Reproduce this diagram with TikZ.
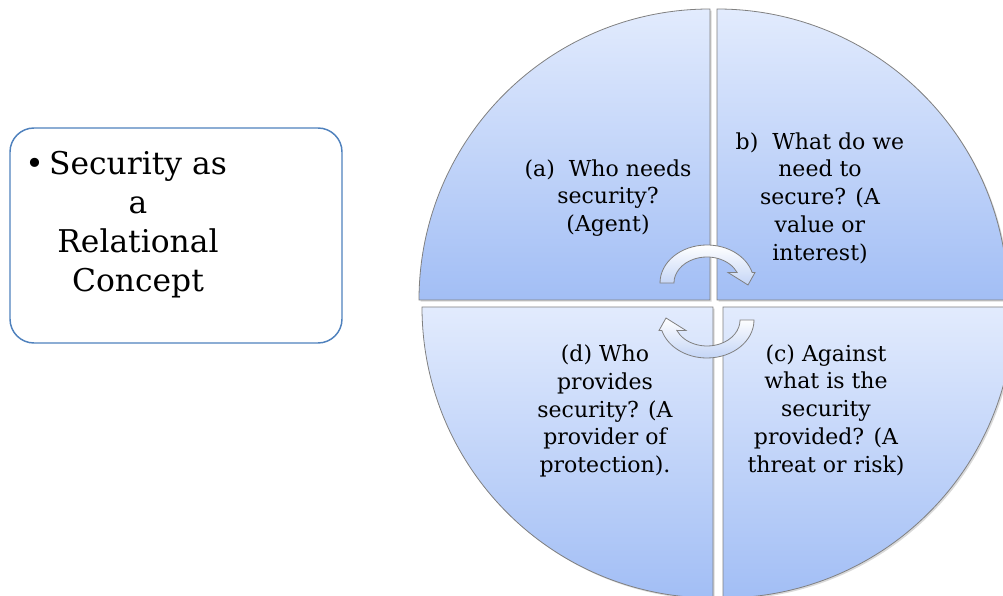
\documentclass[tikz,border=0pt]{standalone}
\usepackage{fontspec}
\setmainfont{DejaVu Serif}
\usetikzlibrary{shapes,arrows.meta,positioning,calc,shadows}
\definecolor{cQTop} {RGB}{226,235,253}
\definecolor{cQBot} {RGB}{162,190,245}
\definecolor{cFrame}{RGB}{79,129,189}
\definecolor{cEdge} {RGB}{128,128,128}
\definecolor{cArrow}{RGB}{196,213,246}

\begin{document}
\begin{tikzpicture}[
    x=0.75pt, y=0.75pt,
    quad/.style={draw=cEdge, line width=0.6pt, top color=cQTop, bottom color=cQBot,
                 drop shadow={shadow xshift=1.2pt, shadow yshift=-1.2pt, opacity=0.3}},
    qtext/.style={align=center, font=\fontsize{16.5}{20.8}\selectfont},
    topic/.style={align=center, font=\fontsize{23.5}{29.3}\selectfont},
    % curved block arrows in the middle of the circle
    cyc/.style={draw=cEdge, line width=0.6pt, top color=white, bottom color=cArrow},
]
\useasboundingbox (0,0) rectangle (1003,596);
\clip (0,0) rectangle (1003,596);

% --- Left box
\draw[cFrame, line width=1.1pt, rounded corners=18pt] (10,253) rectangle (342,468);
\node[topic] (topic) at (138,371)
    {\llap{\textbullet\,}Security as\\a\\Relational\\Concept};

% --- Quadrants (slightly pulled apart)
\draw[quad] (710,296) -- (419,296) arc[start angle=180, end angle=90, radius=291] -- cycle;
\draw[quad] (717,296) -- (717,587) arc[start angle=90, end angle=0, radius=291] -- cycle;
\draw[quad] (723,289) -- (1014,289) arc[start angle=0, end angle=-90, radius=291] -- cycle;
\draw[quad] (713,289) -- (713,-2) arc[start angle=270, end angle=180, radius=291] -- cycle;

% --- Quadrant texts
\node[qtext] (qa) at (608,398)
    {(a)\ \ Who needs\\security?\\(Agent)};
\node[qtext] (qb) at (820,398)
    {b)\ \ What do we\\need to\\secure? (A\\value or\\interest)};
\node[qtext] (qc) at (826,186)
    {(c) Against\\what is the\\security\\provided? (A\\threat or risk)};
\node[qtext] (qd) at (605,185)
    {(d) Who\\provides\\security? (A\\provider of\\protection).};

% --- Cycle arrows
\begin{scope}[shift={(707,313)}]
\draw[cyc] (-47,0) arc[start angle=180, end angle=16, x radius=47, y radius=38]
    -- (48,10.5) -- (41,-2) -- (21,10.5) -- (30.2,10.4)
    arc[start angle=23.6, end angle=180, x radius=33, y radius=26] -- cycle;
\end{scope}
\begin{scope}[shift={(707,276)}, rotate=180]
\draw[cyc] (-47,0) arc[start angle=180, end angle=16, x radius=47, y radius=38]
    -- (48,10.5) -- (41,-2) -- (21,10.5) -- (30.2,10.4)
    arc[start angle=23.6, end angle=180, x radius=33, y radius=26] -- cycle;
\end{scope}
\end{tikzpicture}
\end{document}
